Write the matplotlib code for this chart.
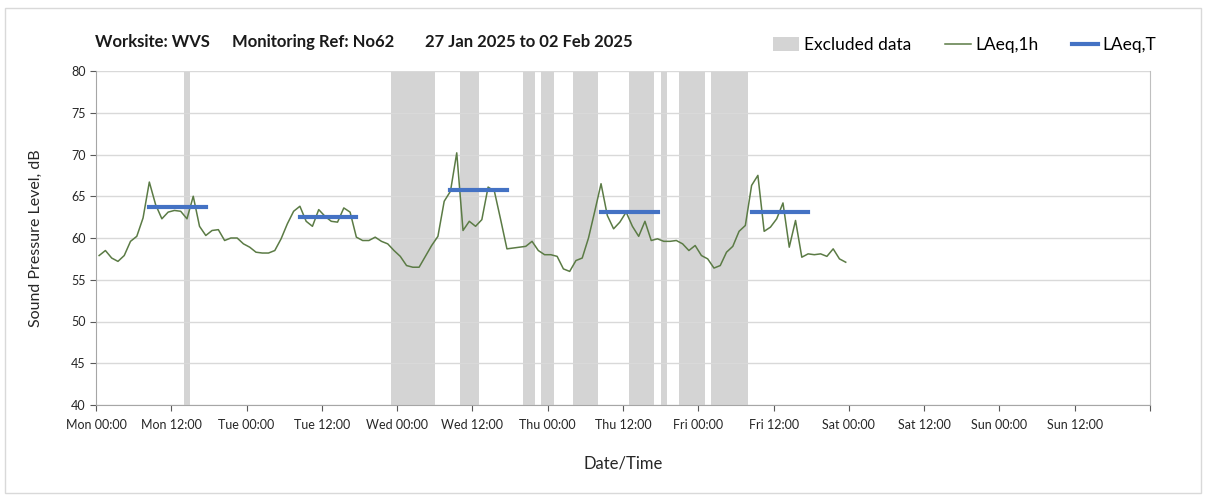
import numpy as np
import matplotlib
matplotlib.use('Agg')
import matplotlib.pyplot as plt
from matplotlib.patches import Patch, Rectangle
from matplotlib.lines import Line2D

plt.rcParams['font.family'] = ['Lato', 'DejaVu Sans']

# ---------------- data ----------------
days = ['Mon', 'Tue', 'Wed', 'Thu', 'Fri', 'Sat', 'Sun']

# hourly LAeq,1h values (plotted at mid-hour), Mon 00:00 .. Sat 00:00
laeq_1h = [
    57.9, 58.5, 57.6, 57.2, 57.9, 59.6, 60.2, 62.4, 66.7, 64.0, 62.3, 63.1,
    63.3, 63.2, 62.3, 65.0, 61.4, 60.3, 60.9, 61.0, 59.7, 60.0, 60.0, 59.3,
    58.9, 58.3, 58.2, 58.2, 58.5, 59.9, 61.7, 63.2, 63.8, 62.0, 61.4, 63.4,
    62.6, 62.0, 61.9, 63.6, 63.1, 60.1, 59.7, 59.7, 60.1, 59.6, 59.3, 58.5,
    57.8, 56.7, 56.5, 56.5, 57.8, 59.1, 60.2, 64.4, 65.6, 70.2, 60.9, 62.0,
    61.4, 62.2, 66.1, 65.6, 62.2, 58.7, 58.8, 58.9, 59.0, 59.6, 58.5, 58.0,
    58.0, 57.8, 56.3, 56.0, 57.3, 57.6, 60.0, 63.2, 66.5, 62.7, 61.1, 61.9,
    63.1, 61.4, 60.2, 62.0, 59.7, 59.9, 59.6, 59.6, 59.7, 59.3, 58.5, 59.1,
    57.9, 57.5, 56.4, 56.7, 58.3, 59.0, 60.8, 61.5, 66.3, 67.5, 60.8, 61.3,
    62.3, 64.2, 58.9, 62.1, 57.7, 58.1, 58.0, 58.1, 57.8, 58.7, 57.5, 57.1,
]

# excluded-data periods (hours from Mon 00:00)
excl_start = [14, 47, 58, 68, 71, 76, 85, 90, 93, 98]
excl_end = [15, 54, 61, 70, 73, 80, 89, 91, 97, 104]

# daytime LAeq,T periods (hours from Mon 00:00) and levels
period_start = [8, 32, 56, 80, 104]
period_end = [18, 42, 66, 90, 114]
laeq_t = [63.75, 62.5, 65.8, 63.15, 63.15]

title_parts = ['Worksite: WVS', 'Monitoring Ref: No62', '27 Jan 2025 to 02 Feb 2025']

# ---------------- figure ----------------
W, H = 1208, 496
fig = plt.figure(figsize=(W / 100, H / 100), dpi=100)
ax = fig.add_axes([96 / W, 1 - 405 / H, (1150 - 96) / W, (405 - 71) / H])

green = '#5b7b45'
blue = '#4472C4'
grey = '#d4d4d4'

for s, e in zip(excl_start, excl_end):
    ax.axvspan(s, e, color=grey, lw=0, zorder=1)

t = np.arange(len(laeq_1h)) + 0.5
ax.plot(t, laeq_1h, color=green, lw=1.1, zorder=3)

for s, e, v in zip(period_start, period_end, laeq_t):
    ax.plot([s + 0.5, e - 0.5], [v, v], color=blue, lw=3,
            solid_capstyle='projecting', zorder=4)

ax.set_xlim(0, 168)
ax.set_ylim(40, 80)
ax.set_yticks(range(40, 81, 5))
xt = list(range(0, 169, 12))
ax.set_xticks(xt)
ax.set_xticklabels([f"{days[h // 24]} {h % 24:02d}:00" if h < 168 else '' for h in xt])
ax.tick_params(axis='both', labelsize=9, colors='#595959', length=4, width=0.8)
ax.tick_params(axis='x', labelcolor='#262626', pad=6)
ax.tick_params(axis='y', labelcolor='#262626')

ax.grid(axis='y', color='#d9d9d9', lw=1)
ax.set_xticks(range(0, 169, 24), minor=True)
ax.tick_params(axis='x', which='minor', length=0)
ax.grid(axis='x', which='minor', color='#d9d9d9', lw=1)
ax.set_axisbelow('line')

for side in ['left', 'bottom']:
    ax.spines[side].set_color('#a6a6a6')
ax.spines['right'].set_color('#bfbfbf')
ax.spines['top'].set_visible(False)

ax.set_ylabel('Sound Pressure Level, dB', fontsize=11.5, color='#262626', labelpad=20)
ax.set_xlabel('Date/Time', fontsize=12, color='#262626', labelpad=18)

# title pieces
for xp, txt in zip([95, 232, 425], title_parts):
    fig.text(xp / W, 1 - 42 / H, txt, fontsize=12, fontweight='bold',
             ha='left', va='center', color='#1a1a1a')

# legend
handles = [Patch(facecolor=grey, edgecolor='none'),
           Line2D([], [], color=green, lw=1.1),
           Line2D([], [], color=blue, lw=3)]
fig.legend(handles, ['Excluded data', 'LAeq,1h', 'LAeq,T'], ncol=3,
           loc='center right', bbox_to_anchor=(1172 / W, 1 - 45 / H),
           frameon=False, fontsize=12.5, handlelength=1.5, handletextpad=0.25,
           columnspacing=1.95, handleheight=0.8)

fig.patches.append(Rectangle((5 / W, 3 / H), 1196 / W, 485 / H, transform=fig.transFigure,
                             fill=False, edgecolor='#d9d9d9', lw=1))

fig.savefig('out.png', dpi=100)
